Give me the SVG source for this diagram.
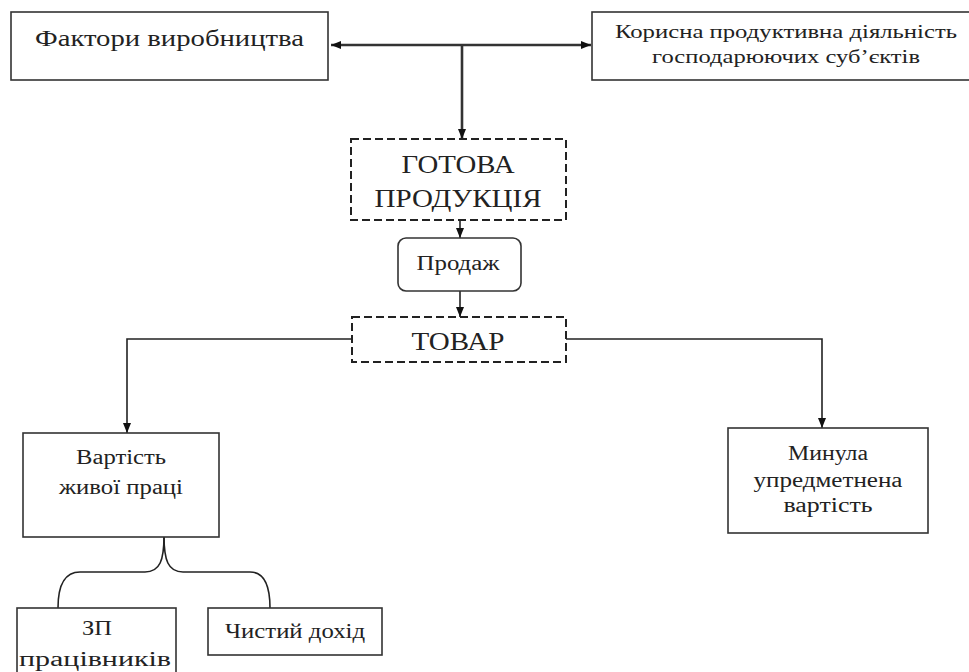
<svg xmlns="http://www.w3.org/2000/svg" width="969" height="672" viewBox="0 0 969 672" font-family="Liberation Serif, Times New Roman, serif">
<style>
  .box{fill:#fff;stroke:#333;stroke-width:1.6}
  .dash{fill:#fff;stroke:#222;stroke-width:2;stroke-dasharray:8 4}
  .t{fill:#222;text-anchor:middle}
  .c{fill:none;stroke:#222;stroke-width:1.6}
  .ct{fill:none;stroke:#333;stroke-width:2.6}
</style>
<defs>
  <marker id="ah" markerUnits="userSpaceOnUse" markerWidth="10" markerHeight="10" refX="10" refY="5" orient="auto-start-reverse">
    <path d="M0,1 L10,5 L0,9 z" fill="#111"/>
  </marker>
</defs>
<rect width="969" height="672" fill="#fff"/>
<g id="connectors">
  <path class="ct" d="M331,45 H591" marker-start="url(#ah)" marker-end="url(#ah)"/>
  <path class="ct" d="M462,45 V139" marker-end="url(#ah)"/>
  <path class="c" d="M460,220 V238" marker-end="url(#ah)"/>
  <path class="c" d="M460,291 V317" marker-end="url(#ah)"/>
  <path class="c" d="M352,339 H127 V433" marker-end="url(#ah)"/>
  <path class="c" d="M566,339 H822 V428" marker-end="url(#ah)"/>
  <path class="c" d="M164,536 C164,560 160,572 145,572 L80,572 C63,572 58,588 58,608"/>
  <path class="c" d="M164,536 C164,560 168,572 183,572 L250,572 C265,572 270,588 270,608"/>
</g>
<g id="n-factors">
  <rect class="box" x="11" y="12" width="317" height="68"/>
  <text class="t" x="169.5" y="46" font-size="24" textLength="269" lengthAdjust="spacingAndGlyphs">Фактори виробництва</text>
</g>
<g id="n-activity">
  <rect class="box" x="592" y="12" width="390" height="68"/>
  <text class="t" x="786" y="38" font-size="19" textLength="342" lengthAdjust="spacingAndGlyphs">Корисна продуктивна діяльність</text>
  <text class="t" x="786" y="63" font-size="19" textLength="268" lengthAdjust="spacingAndGlyphs">господарюючих суб’єктів</text>
</g>
<g id="n-product">
  <rect class="dash" x="351" y="139" width="215" height="81"/>
  <text class="t" x="458" y="173" font-size="26" textLength="113" lengthAdjust="spacingAndGlyphs">ГОТОВА</text>
  <text class="t" x="458" y="207" font-size="26" textLength="167" lengthAdjust="spacingAndGlyphs">ПРОДУКЦІЯ</text>
</g>
<g id="n-sale">
  <rect class="box" x="398" y="238" width="123" height="53" rx="8" ry="8"/>
  <text class="t" x="458" y="270" font-size="20" textLength="83" lengthAdjust="spacingAndGlyphs">Продаж</text>
</g>
<g id="n-goods">
  <rect class="dash" x="352" y="317" width="214" height="45"/>
  <text class="t" x="458" y="350" font-size="26" textLength="93" lengthAdjust="spacingAndGlyphs">ТОВАР</text>
</g>
<g id="n-living">
  <rect class="box" x="23" y="433" width="196" height="104"/>
  <text class="t" x="121" y="464" font-size="20" textLength="90" lengthAdjust="spacingAndGlyphs">Вартість</text>
  <text class="t" x="121" y="494" font-size="20" textLength="124" lengthAdjust="spacingAndGlyphs">живої праці</text>
</g>
<g id="n-past">
  <rect class="box" x="728" y="428" width="200" height="105"/>
  <text class="t" x="828" y="460" font-size="20" textLength="80" lengthAdjust="spacingAndGlyphs">Минула</text>
  <text class="t" x="828" y="487" font-size="20" textLength="149" lengthAdjust="spacingAndGlyphs">упредметнена</text>
  <text class="t" x="828" y="512" font-size="20" textLength="89" lengthAdjust="spacingAndGlyphs">вартість</text>
</g>
<g id="n-wages">
  <rect class="box" x="17" y="608" width="159" height="80"/>
  <text class="t" x="97" y="635" font-size="20" textLength="30" lengthAdjust="spacingAndGlyphs">ЗП</text>
  <text class="t" x="95" y="666" font-size="20" textLength="152" lengthAdjust="spacingAndGlyphs">працівників</text>
</g>
<g id="n-income">
  <rect class="box" x="208" y="608" width="174" height="47"/>
  <text class="t" x="295" y="638" font-size="20" textLength="140" lengthAdjust="spacingAndGlyphs">Чистий дохід</text>
</g>
</svg>
